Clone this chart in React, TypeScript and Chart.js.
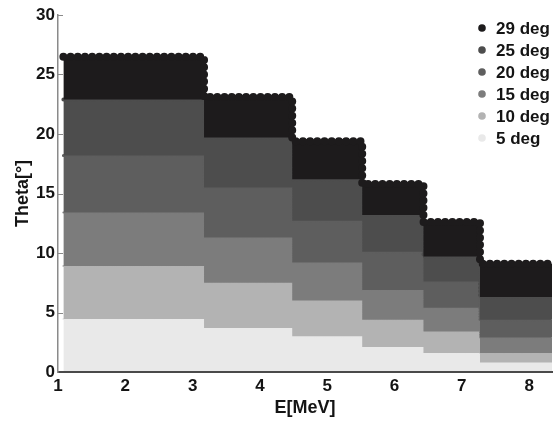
import React, { useEffect, useRef } from "react";
import { Chart, registerables } from "chart.js";

Chart.register(...registerables);

// Energy bin edges [MeV]
const energyEdges = [1.08, 3.17, 4.48, 5.52, 6.43, 7.27, 8.34];

// Upper theta boundary of each band, per energy bin [deg]
const theta29 = [26.5, 23.1, 19.4, 15.8, 12.6, 9.1];
const theta25 = [22.9, 19.7, 16.2, 13.2, 9.7, 6.3];
const theta20 = [18.2, 15.5, 12.7, 10.1, 7.6, 4.4];
const theta15 = [13.4, 11.3, 9.2, 6.9, 5.4, 2.9];
const theta10 = [8.9, 7.5, 6.0, 4.4, 3.4, 1.6];
const theta5 = [4.45, 3.7, 3.0, 2.1, 1.6, 0.8];

const seriesLabels = ["29 deg", "25 deg", "20 deg", "15 deg", "10 deg", "5 deg"];
const seriesValues = [theta29, theta25, theta20, theta15, theta10, theta5];
const seriesColors = ["#1d1b1c", "#4d4d4d", "#5e5e5e", "#7c7c7c", "#b3b3b3", "#e9e9e9"];
const dotSizes = [8, 4, 3, 2, 2, 2];

const yTicks = [0, 5, 10, 15, 20, 25, 30];
const xTicks = [1, 2, 3, 4, 5, 6, 7, 8];

const FONT = "'Liberation Sans', Arial, Helvetica, sans-serif";

const innerTicks = {
  id: "innerTicks",
  afterDatasetsDraw(chart: any) {
    const { ctx, chartArea, scales } = chart;
    ctx.save();
    ctx.strokeStyle = "#8a8a8a";
    ctx.lineWidth = 1;
    yTicks.forEach((v) => {
      const y = Math.round(scales.y.getPixelForValue(v)) + 0.5;
      ctx.beginPath();
      ctx.moveTo(chartArea.left, y);
      ctx.lineTo(chartArea.left + 5, y);
      ctx.stroke();
    });
    ctx.restore();
  },
};

const cornerLegend = {
  id: "cornerLegend",
  afterDraw(chart: any) {
    const { ctx, chartArea } = chart;
    ctx.save();
    ctx.font = `bold 17px ${FONT}`;
    ctx.textBaseline = "middle";
    ctx.textAlign = "left";
    chart.data.datasets.forEach((ds: any, i: number) => {
      const y = chartArea.top + 13 + i * 22;
      const x = chartArea.right - 70;
      ctx.beginPath();
      ctx.arc(x, y, 3.8, 0, Math.PI * 2);
      ctx.fillStyle = ds.backgroundColor;
      ctx.fill();
      ctx.fillStyle = "#141414";
      ctx.fillText(ds.label, x + 14, y + 1);
    });
    ctx.restore();
  },
};

export default function App() {
  const ref = useRef<HTMLCanvasElement>(null);

  useEffect(() => {
    if (!ref.current) return;
    Chart.defaults.font.family = FONT;
    const datasets = seriesLabels.map((label, i) => {
      const vals = seriesValues[i];
      const data = energyEdges.map((x, j) => ({ x, y: vals[Math.min(j, vals.length - 1)] }));
      const w = dotSizes[i];
      return {
        label,
        data,
        stepped: true,
        fill: i === seriesLabels.length - 1 ? "origin" : "+1",
        backgroundColor: seriesColors[i],
        borderColor: seriesColors[i],
        borderWidth: w,
        borderDash: [0, w * 0.9],
        borderCapStyle: "round" as const,
        borderJoinStyle: "round" as const,
        pointRadius: 0,
      };
    });

    const chart = new Chart(ref.current, {
      type: "line",
      data: { datasets },
      plugins: [innerTicks, cornerLegend],
      options: {
        animation: false,
        responsive: false,
        layout: { padding: { left: 0, top: 15, right: 2, bottom: 0 } },
        plugins: { legend: { display: false }, tooltip: { enabled: false } },
        scales: {
          x: {
            type: "linear",
            min: 1,
            max: 8.34,
            afterFit: (s: any) => {
              s.height = 50;
            },
            afterBuildTicks: (s: any) => {
              s.ticks = xTicks.map((v) => ({ value: v }));
            },
            ticks: {
              padding: 4,
              color: "#141414",
              font: { size: 17, weight: "bold" },
            },
            grid: { display: false, drawTicks: false },
            border: { display: true, color: "#4a4a4a", width: 2, dash: [2, 1], z: 1 },
            title: {
              display: true,
              text: "E[MeV]",
              color: "#141414",
              font: { size: 18, weight: "bold" },
              padding: { top: 0, bottom: 3 },
            },
          },
          y: {
            min: 0,
            max: 30,
            afterFit: (s: any) => {
              s.width = 58;
            },
            afterBuildTicks: (s: any) => {
              s.ticks = yTicks.map((v) => ({ value: v }));
            },
            ticks: {
              padding: 3,
              color: "#141414",
              font: { size: 17, weight: "bold" },
            },
            grid: { display: false, drawTicks: false },
            border: { display: true, color: "#8a8a8a", width: 1.5, z: 1 },
            title: {
              display: true,
              text: "Theta[°]",
              color: "#141414",
              font: { size: 18, weight: "bold" },
              padding: { top: 12, bottom: 0 },
            },
          },
        },
      },
    });
    return () => chart.destroy();
  }, []);

  return (
    <div style={{ position: "fixed", left: 0, top: 0, width: 554, height: 422, background: "#fff" }}>
      <canvas ref={ref} width={554} height={422} style={{ display: "block" }} />
    </div>
  );
}
